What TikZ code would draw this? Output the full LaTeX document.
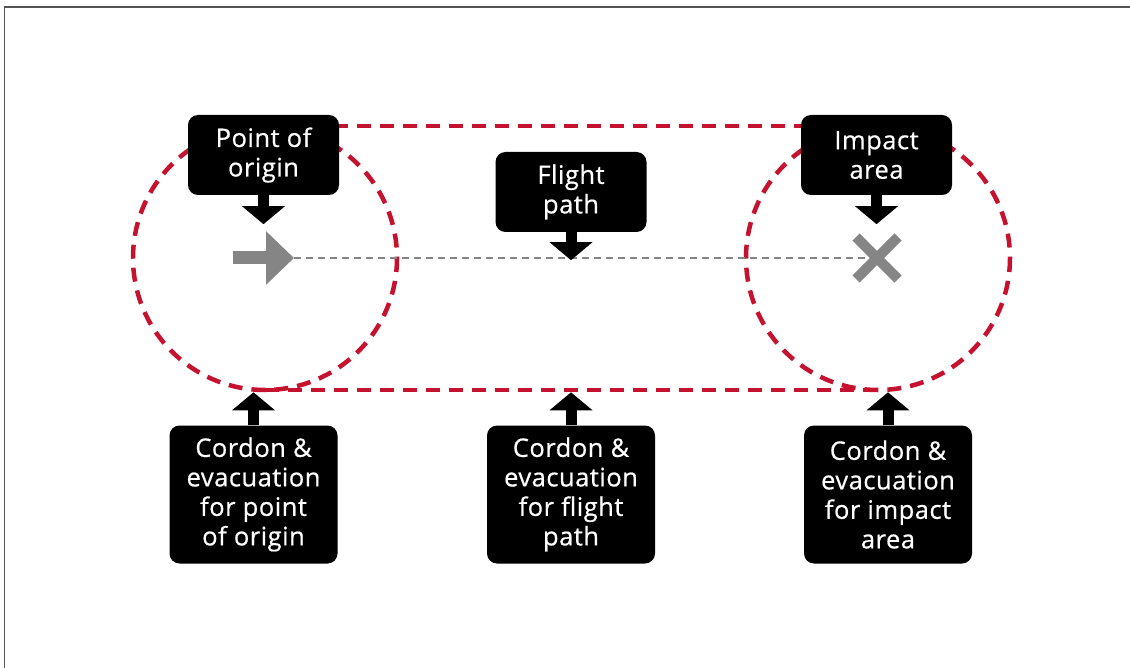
\documentclass[tikz,border=0pt]{standalone}
\usepackage{fontspec}
\setmainfont{Open Sans}
\newfontfamily\tagfont{Open Sans}[FakeBold=0.6,
  BoldFont={Open Sans},BoldFeatures={FakeBold=0.6},LetterSpace=2]
\usetikzlibrary{arrows.meta}
\definecolor{cordRed}{HTML}{C4122F}
\definecolor{cordGrey}{HTML}{858585}
\definecolor{cordFrame}{HTML}{555555}

\begin{document}
\begin{tikzpicture}[x=1pt,y=-1pt,
    tag/.style={fill=black,text=white,rounded corners=10pt,align=center,
                font=\tagfont\bfseries\fontsize{25.5}{29.5}\selectfont,inner sep=0pt,
                minimum width=151pt,minimum height=80pt},
    cordon/.style={tag,minimum width=168pt,minimum height=138pt},
    pointer/.style={line width=11pt,-{Triangle[width=42pt,length=18pt]}},
    zone/.style={draw=cordRed,line width=4.5pt,dash pattern=on 14pt off 9pt},
    track/.style={draw=cordGrey,line width=2pt,dash pattern=on 7pt off 5pt}]

  \useasboundingbox (0,0) rectangle (1130,668);
  \draw[cordFrame,line width=1.5pt] (4.5,668) -- (4.5,7) -- (1130,7);

  % cordon zones
  \draw[zone] (265,258) circle[radius=132];
  \draw[zone] (878,258) circle[radius=132];
  \draw[zone] (265,126) -- (878,126);
  \draw[zone] (265,390) -- (878,390);

  \coordinate (launch) at (294,258);
  \coordinate (impact) at (877,258);

  \draw[track] (launch) -- (impact);
  \draw[cordGrey,line width=13pt,-{Triangle[width=52pt,length=28pt]}]
    (233,258) -- (launch);
  \draw[cordGrey,line width=10pt] (impact) ++(-21,-21) -- ++(42,42);
  \draw[cordGrey,line width=10pt] (impact) ++(-21,21) -- ++(42,-42);

  \node[tag] (origin) at (263.5,155) {Point of\\origin};
  \node[tag] (path)   at (571,192)   {Flight\\path};
  \node[tag] (area)   at (876.5,155) {Impact\\area};

  \node[cordon] (cordA) at (253.5,494.5) {Cordon \&\\evacuation\\for point\\of origin};
  \node[cordon] (cordB) at (571,494.5)   {Cordon \&\\evacuation\\for flight\\path};
  \node[cordon] (cordC) at (888,494.5)   {Cordon \&\\evacuation\\for impact\\area};

  \draw[pointer] (origin.south) -- ++(0,29);
  \draw[pointer] (path.south)   -- ++(0,28);
  \draw[pointer] (area.south)   -- ++(0,29);
  \draw[pointer] (cordA.north)  -- ++(0,-33);
  \draw[pointer] (cordB.north)  -- ++(0,-33);
  \draw[pointer] (cordC.north)  -- ++(0,-33);
\end{tikzpicture}
\end{document}
